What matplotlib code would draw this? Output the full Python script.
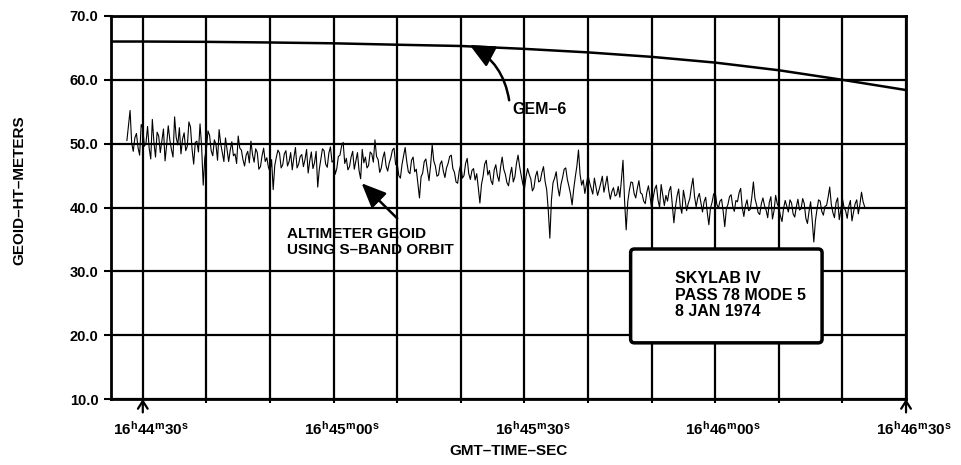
import numpy as np
import matplotlib
matplotlib.use('Agg')
import matplotlib.pyplot as plt
from matplotlib.patches import FancyBboxPatch
from matplotlib.transforms import ScaledTranslation

plt.rcParams['font.family'] = ['Liberation Sans', 'DejaVu Sans']
plt.rcParams['font.weight'] = 'bold'
plt.rcParams['mathtext.fontset'] = 'custom'
plt.rcParams['mathtext.rm'] = 'Liberation Sans:bold'
plt.rcParams['mathtext.bf'] = 'Liberation Sans:bold'
plt.rcParams['mathtext.it'] = 'Liberation Sans:bold'

# ---------------- data ----------------
# time in seconds after 16h44m30s
gem_t = [-5, 0, 10, 20, 30, 40, 50, 60, 70, 80, 90, 100, 110, 120]
gem_h = [66.0, 66.0, 65.95, 65.85, 65.72, 65.5, 65.3, 64.85, 64.3, 63.6,
         62.7, 61.5, 60.0, 58.4]

alt_t0 = -2.5
alt_dt = 0.25
alt_h = [
    50.5, 52.8, 55.2, 50.1, 48.8, 50.9, 51.6, 49.4, 48.2, 53.0, 52.4, 49.6, 50.1, 52.7, 49.3, 47.6, 53.8, 50.2, 47.9, 51.8,
    51.2, 48.6, 50.4, 52.3, 47.3, 49.8, 52.8, 50.6, 49.1, 47.9, 54.2, 51.0, 49.8, 52.5, 48.4, 50.7, 51.7, 48.9, 49.6, 53.4,
    52.6, 49.1, 46.8, 50.2, 50.4, 48.7, 53.1, 49.5, 43.5, 47.8, 49.2, 52.0, 51.3, 48.9, 48.1, 50.6, 49.9, 47.4, 52.2, 50.0,
    48.6, 47.2, 50.9, 49.1, 47.2, 49.0, 50.3, 48.1, 48.4, 46.9, 51.2, 49.3, 49.0, 47.5, 46.5, 48.2, 48.8, 47.0, 50.4, 48.3,
    47.1, 49.2, 48.6, 46.0, 46.4, 48.1, 49.3, 47.2, 47.8, 46.3, 45.6, 47.5, 42.8, 46.6, 47.9, 49.0, 48.5, 46.2, 46.7, 48.4,
    48.9, 46.5, 47.2, 48.6, 45.9, 47.8, 49.4, 46.2, 46.8, 48.0, 48.3, 46.4, 47.5, 49.1, 45.4, 47.3, 48.7, 46.1, 47.0, 48.8,
    43.2, 46.0, 47.6, 49.2, 48.9, 46.8, 46.3, 48.5, 49.5, 47.1, 47.4, 45.2, 46.1, 48.0, 48.2, 49.6, 50.2, 46.9, 47.7, 45.9,
    46.4, 47.9, 48.8, 46.0, 47.3, 48.6, 45.8, 44.5, 49.1, 47.0, 47.9, 46.2, 46.6, 48.7, 48.4, 47.1, 50.6, 48.0, 47.5, 45.5,
    46.2, 47.8, 48.7, 46.5, 45.7, 47.0, 47.8, 49.0, 49.3, 46.7, 46.9, 45.0, 44.6, 46.7, 48.1, 49.4, 47.2, 45.6, 45.3, 47.4,
    47.9, 45.6, 46.0, 43.7, 41.5, 44.8, 45.4, 47.2, 47.6, 45.9, 44.2, 46.6, 49.8, 47.3, 46.5, 44.9, 45.1, 46.8, 47.3, 45.7,
    44.7, 46.2, 46.9, 48.0, 48.2, 46.1, 45.5, 44.0, 43.8, 45.7, 46.8, 44.6, 45.0, 46.9, 47.7, 45.3, 44.4, 45.8, 46.1, 44.3,
    45.3, 43.1, 40.7, 43.6, 44.9, 46.8, 47.4, 45.1, 45.8, 44.2, 43.6, 45.9, 46.7, 45.0, 44.1, 46.3, 47.9, 46.0, 45.2, 43.9,
    43.4, 45.1, 46.3, 44.0, 44.8, 46.9, 48.2, 46.4, 45.0, 43.7, 42.9, 44.8, 46.1, 45.2, 44.5, 42.6, 43.1, 44.9, 45.7, 44.0,
    44.2, 45.5, 46.4, 44.1, 42.8, 39.6, 35.2, 41.2, 43.9, 44.6, 45.6, 43.2, 41.8, 43.6, 44.7, 46.0, 46.2, 44.4, 43.3, 42.1,
    40.4, 42.9, 44.8, 46.5, 49.0, 45.2, 43.5, 44.3, 42.2, 43.7, 45.1, 43.9, 43.0, 42.1, 44.6, 43.2, 41.9, 42.8, 43.8, 44.9,
    42.4, 43.6, 44.9, 42.7, 41.3, 42.5, 43.1, 41.8, 42.0, 43.3, 41.6, 44.3, 47.4, 41.0, 36.5, 40.9, 42.7, 44.0, 43.9, 42.2,
    41.5, 43.0, 44.2, 42.3, 42.1, 41.0, 40.6, 42.4, 43.4, 41.7, 39.8, 41.6, 42.9, 43.5, 41.2, 40.0, 43.6, 42.0, 40.3, 41.9,
    41.0, 42.6, 43.3, 40.4, 37.6, 40.1, 41.8, 42.9, 40.2, 39.1, 42.7, 41.3, 39.5, 40.6, 41.4, 43.2, 44.6, 41.7, 40.1, 41.5,
    42.2, 40.7, 39.3, 40.9, 41.6, 39.2, 37.3, 39.9, 40.8, 42.1, 42.4, 40.5, 39.9, 41.0, 41.3, 39.4, 37.0, 39.8, 40.5, 41.7,
    42.0, 40.2, 39.4, 41.1, 40.9, 42.3, 43.0, 40.0, 38.6, 40.3, 41.2, 39.5, 39.7, 41.6, 44.0, 41.4, 40.4, 39.2, 38.9, 40.6,
    41.5, 40.3, 39.6, 38.4, 40.8, 41.7, 38.2, 39.5, 41.9, 40.6, 40.0, 38.7, 37.8, 39.9, 41.1, 40.2, 39.3, 41.2, 40.7, 39.0,
    38.5, 40.1, 41.3, 39.6, 39.8, 41.4, 40.6, 38.3, 37.5, 39.4, 40.9, 38.0, 34.6, 37.9, 39.7, 41.2, 41.0, 39.4, 38.8, 40.2,
    40.3, 41.6, 43.2, 40.5, 39.2, 38.4, 40.8, 41.5, 38.1, 39.6, 41.4, 40.0, 39.5, 38.3, 40.2, 41.1, 37.9, 39.3, 40.6, 41.2,
    39.0, 40.5, 42.4, 40.9, 40.1,
]
alt_t = alt_t0 + alt_dt * np.arange(len(alt_h))

xtick_pos = [0, 10, 20, 30, 40, 50, 60, 70, 80, 90, 100, 110, 120]
xtick_labels = [r'$16^{h}44^{m}30^{s}$', '', '',
                r'$16^{h}45^{m}00^{s}$', '', '',
                r'$16^{h}45^{m}30^{s}$', '', '',
                r'$16^{h}46^{m}00^{s}$', '', '',
                r'$16^{h}46^{m}30^{s}$']
ytick_pos = [10, 20, 30, 40, 50, 60, 70]
ytick_labels = ['10.0', '20.0', '30.0', '40.0', '50.0', '60.0', '70.0']

# ---------------- figure ----------------
fig = plt.figure(figsize=(9.61, 4.65), dpi=100)
ax = fig.add_axes([0.1155, 0.1419, 0.8273, 0.8237])
ax.set_xlim(-5, 120)
ax.set_ylim(10, 70)

ax.set_xticks(xtick_pos)
ax.set_xticklabels(xtick_labels, fontsize=11)
ax.set_yticks(ytick_pos)
ax.set_yticklabels(ytick_labels, fontsize=10.5, fontweight='bold')
ax.tick_params(axis='x', length=3, width=1.5, pad=12, direction='out')
ax.tick_params(axis='y', length=5, width=1.5, pad=4, direction='out')
for lab in ax.get_xticklabels():
    lab.set_transform(lab.get_transform() + ScaledTranslation(8/100, 0, fig.dpi_scale_trans))

ax.grid(True, color='black', lw=1.6, zorder=1)
ax.set_axisbelow(True)
for s in ax.spines.values():
    s.set_linewidth(2.0)

ax.plot(gem_t, gem_h, color='black', lw=1.8, zorder=2)
ax.plot(alt_t, alt_h, color='black', lw=0.8, zorder=2)

# info box
box = FancyBboxPatch((76.7, 18.8), 30.1, 14.7,
                     boxstyle='round,pad=0,rounding_size=0.6',
                     facecolor='white', edgecolor='black', lw=2.5, zorder=3)
ax.add_patch(box)
ax.text(83.7, 30.1, 'SKYLAB IV\nPASS 78 MODE 5\n8 JAN 1974',
        fontsize=11.5, fontweight='bold', ha='left', va='top',
        linespacing=1.15, zorder=4)

# GEM-6 annotation
ax.annotate('', xy=(51.4, 65.45), xytext=(57.6, 56.8),
            arrowprops=dict(arrowstyle='-|>,head_length=1.5,head_width=0.7',
                            connectionstyle='arc3,rad=0.25', lw=1.8,
                            color='black', shrinkA=0, shrinkB=0),
            zorder=4)
ax.text(62.4, 55.4, 'GEM\u20136', fontsize=11.5, fontweight='bold',
        ha='center', va='center', zorder=4)

# altimeter annotation
ax.annotate('', xy=(34.4, 43.8), xytext=(40.0, 38.3),
            arrowprops=dict(arrowstyle='-|>,head_length=1.5,head_width=0.65',
                            lw=1.8, color='black', shrinkA=0, shrinkB=0),
            zorder=4)
ax.text(22.7, 37.0, 'ALTIMETER GEOID\nUSING S\u2013BAND ORBIT',
        fontsize=11, fontweight='bold', ha='left', va='top',
        linespacing=1.2, zorder=4)

# start/end markers below the axis
for tm in (0, 120):
    ax.annotate('', xy=(tm, 10), xytext=(tm, 7.9),
                arrowprops=dict(arrowstyle='->,head_length=0.55,head_width=0.35',
                                lw=1.6, color='black', shrinkA=0, shrinkB=0),
                annotation_clip=False)

fig.text(19/961, 1 - 190/465, 'GEOID\u2013HT\u2013METERS', rotation=90,
         fontsize=11, fontweight='bold', ha='center', va='center')
fig.text(508/961, 1 - 451/465, 'GMT\u2013TIME\u2013SEC',
         fontsize=11, fontweight='bold', ha='center', va='center')

fig.savefig('out.png', dpi=100)
